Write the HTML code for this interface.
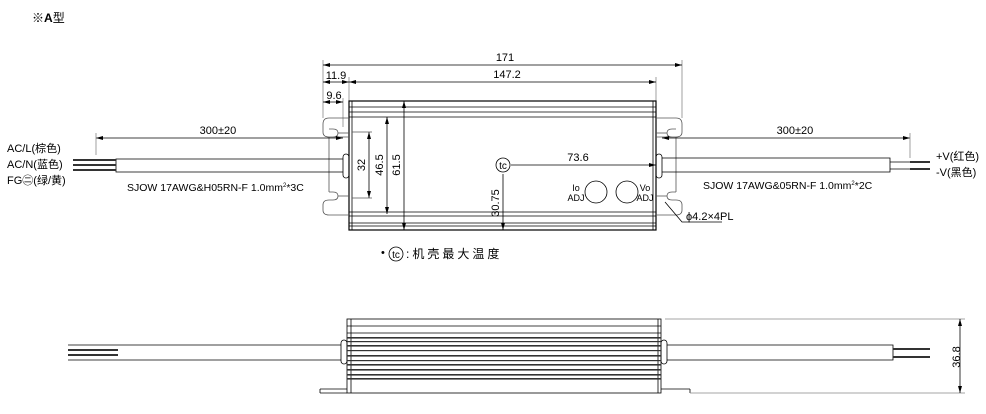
<!DOCTYPE html>
<html><head><meta charset="utf-8"><style>
html,body{margin:0;padding:0;background:#fff;}
svg{display:block;font-family:"Liberation Sans","Noto Sans CJK SC",sans-serif;}
</style></head><body>
<svg width="986" height="414" viewBox="0 0 986 414" xmlns="http://www.w3.org/2000/svg">
<defs>
<marker id="a" markerWidth="7" markerHeight="4" refX="7" refY="2" orient="auto-start-reverse" markerUnits="userSpaceOnUse"><path d="M0,0 L7,2 L0,4 z" fill="#000"/></marker>
</defs>
<g fill="#000" font-size="11">
<text x="32" y="22" font-size="12">※<tspan font-weight="bold">A</tspan>型</text>
</g>
<g stroke="#000" stroke-width="0.8" fill="none">
<line x1="323" y1="60" x2="323" y2="118" stroke="#888"/>
<line x1="682" y1="60" x2="682" y2="118" stroke="#888"/>
<line x1="349" y1="77" x2="349" y2="101" stroke="#888"/>
<line x1="656" y1="77" x2="656" y2="101" stroke="#888"/>
<line x1="343" y1="98" x2="343" y2="127" stroke="#888"/>
<line x1="323" y1="65" x2="682" y2="65" marker-start="url(#a)" marker-end="url(#a)"/>
<line x1="349" y1="82" x2="656" y2="82" marker-start="url(#a)" marker-end="url(#a)"/>
<line x1="323" y1="82" x2="349" y2="82" marker-start="url(#a)" marker-end="url(#a)"/>
<line x1="323" y1="102" x2="343" y2="102" marker-start="url(#a)" marker-end="url(#a)"/>
<rect x="349" y="101" width="307" height="129" stroke-width="1.2"/>
<line x1="352" y1="101" x2="352" y2="230"/><line x1="653" y1="101" x2="653" y2="230"/>
<line x1="349" y1="107" x2="656" y2="107"/><line x1="349" y1="112" x2="656" y2="112"/><line x1="349" y1="117" x2="656" y2="117"/>
<line x1="349" y1="212" x2="656" y2="212"/><line x1="349" y1="216" x2="656" y2="216"/><line x1="349" y1="223" x2="656" y2="223"/><line x1="349" y1="226" x2="656" y2="226"/>
<path d="M349,118 L329,118 Q323,118 323,124 L323,132 Q323,137 329,137 L333,137 Q338,137 338,133 Q338,129 333,129 L329,129 M329,137 L349,137" stroke="#555"/>
<path d="M329,137 L329,192 M333,192 Q338,192 338,196 Q338,200 333,200 L329,200 Q323,200 323,205 L323,210 Q323,215 329,215 L349,215 M329,192 L333,192" stroke="#555"/>
<line x1="338" y1="133" x2="349" y2="133" stroke="#555"/><line x1="338" y1="196" x2="349" y2="196" stroke="#555"/>
<path d="M656,118 L676,118 Q682,118 682,124 L682,132 Q682,137 676,137 L672,137 Q667,137 667,133 Q667,129 672,129 L676,129 M676,137 L656,137" stroke="#555"/>
<path d="M676,137 L676,192 M672,192 Q667,192 667,196 Q667,200 672,200 L676,200 Q682,200 682,205 L682,210 Q682,215 676,215 L656,215 M676,192 L672,192" stroke="#555"/>
<line x1="667" y1="133" x2="656" y2="133" stroke="#555"/><line x1="667" y1="196" x2="656" y2="196" stroke="#555"/>
<rect x="343" y="154" width="6" height="24" rx="3"/>
<rect x="656" y="154" width="6" height="24" rx="3"/>
<path d="M343,159 L116,159 L116,172 L343,172"/>
<path d="M662,158 L890,158 L890,172 L662,172"/>
<line x1="890" y1="162" x2="930" y2="162"/><line x1="890" y1="169" x2="930" y2="169"/>
<line x1="96" y1="138" x2="343" y2="138" marker-start="url(#a)" marker-end="url(#a)"/>
<line x1="96" y1="133" x2="96" y2="155" stroke="#888"/>
<line x1="662" y1="138" x2="910" y2="138" marker-start="url(#a)" marker-end="url(#a)"/>
<line x1="910" y1="133" x2="910" y2="158" stroke="#888"/>
<line x1="369" y1="132" x2="369" y2="198" marker-start="url(#a)" marker-end="url(#a)"/>
<line x1="352" y1="132" x2="372" y2="132" stroke="#555"/><line x1="352" y1="198" x2="372" y2="198" stroke="#555"/>
<line x1="387" y1="117" x2="387" y2="214" marker-start="url(#a)" marker-end="url(#a)"/>
<line x1="404" y1="101" x2="404" y2="230" marker-start="url(#a)" marker-end="url(#a)"/>
<circle cx="503" cy="165" r="7"/>
<line x1="511" y1="165" x2="656" y2="165" marker-end="url(#a)"/>
<line x1="503" y1="174" x2="503" y2="230" marker-end="url(#a)"/>
<circle cx="596" cy="192" r="11"/><circle cx="627" cy="192" r="11"/>
<polyline points="665,202 682,222 722,222"/>
</g>
<g fill="#333">
<rect x="73" y="159" width="43" height="2"/><rect x="73" y="164" width="43" height="2"/><rect x="73" y="169" width="43" height="2"/>
<rect x="910" y="161" width="20" height="2"/><rect x="910" y="168" width="20" height="2"/>
</g>
<g fill="#000" font-size="11">
<text x="505" y="61" text-anchor="middle">171</text>
<text x="507" y="78" text-anchor="middle">147.2</text>
<text x="336" y="79" text-anchor="middle">11.9</text>
<text x="334" y="99" text-anchor="middle">9.6</text>
<text x="218" y="134" text-anchor="middle">300±20</text>
<text x="795" y="134" text-anchor="middle">300±20</text>
<text x="578" y="161" text-anchor="middle">73.6</text>
<text transform="translate(365,165) rotate(-90)" text-anchor="middle">32</text>
<text transform="translate(383,165) rotate(-90)" text-anchor="middle">46.5</text>
<text transform="translate(400,165) rotate(-90)" text-anchor="middle">61.5</text>
<text transform="translate(499,203) rotate(-90)" text-anchor="middle">30.75</text>
<text x="503" y="169" text-anchor="middle" font-size="10">tc</text>
<text x="576" y="191" text-anchor="middle" font-size="9">Io</text>
<text x="576" y="201" text-anchor="middle" font-size="9">ADJ</text>
<text x="645" y="191" text-anchor="middle" font-size="9">Vo</text>
<text x="645" y="201" text-anchor="middle" font-size="9">ADJ</text>
<text x="7" y="152">AC/L(棕色)</text>
<text x="7" y="168">AC/N(蓝色)</text>
<text x="7" y="184">FG㊁(绿/黄)</text>
<text x="127" y="191" font-size="10.5">SJOW 17AWG&amp;H05RN-F   1.0mm<tspan font-size="6" dy="-4">2</tspan><tspan dy="4">*3C</tspan></text>
<text x="703" y="189" font-size="10.5">SJOW 17AWG&amp;05RN-F   1.0mm<tspan font-size="6" dy="-4">2</tspan><tspan dy="4">*2C</tspan></text>
<text x="936" y="160">+V(红色)</text>
<text x="936" y="176">-V(黑色)</text>
<text x="686" y="220">ϕ4.2×4PL</text>
<text x="381" y="256">•</text>
<text x="406" y="258" font-size="12" letter-spacing="3">:机壳最大温度</text>
<text x="396" y="258" text-anchor="middle" font-size="10">tc</text>
</g>
<circle cx="396" cy="254" r="7" fill="none" stroke="#000" stroke-width="0.8"/>
<g stroke="#000" stroke-width="0.8" fill="none">
<rect x="347" y="319" width="314" height="74"/>
<line x1="351" y1="319" x2="351" y2="393"/><line x1="658" y1="319" x2="658" y2="393"/>
<line x1="347" y1="326" x2="661" y2="326"/><line x1="347" y1="333" x2="661" y2="333"/>
<line x1="320" y1="393" x2="347" y2="393"/><line x1="320" y1="389" x2="347" y2="389"/><line x1="320" y1="389" x2="320" y2="393"/>
<line x1="661" y1="389" x2="690" y2="389"/><line x1="690" y1="389" x2="690" y2="393"/>
<line x1="690" y1="393" x2="965" y2="393" stroke="#888"/>
<line x1="665" y1="319" x2="965" y2="319" stroke="#888"/>
<rect x="341" y="340" width="6" height="24" rx="3"/>
<rect x="661" y="340" width="6" height="24" rx="3"/>
<line x1="68" y1="345" x2="341" y2="345"/><line x1="68" y1="360" x2="341" y2="360"/>
<path d="M667,345 L893,345 L893,360 L667,360"/>
<line x1="960" y1="319" x2="960" y2="393" marker-start="url(#a)" marker-end="url(#a)"/>
</g>
<g fill="#333">
<rect x="347" y="337" width="314" height="1.6"/><rect x="347" y="341" width="314" height="1.2"/>
<rect x="347" y="345" width="314" height="1.6"/><rect x="347" y="350" width="314" height="1.2"/>
<rect x="347" y="355" width="314" height="1.6"/><rect x="347" y="360" width="314" height="1.2"/>
<rect x="347" y="364" width="314" height="1.6"/><rect x="347" y="369" width="314" height="1.6"/>
<rect x="347" y="374" width="314" height="1.6"/><rect x="347" y="378" width="314" height="1.6"/>
<rect x="68" y="349" width="50" height="2"/><rect x="68" y="354" width="50" height="2"/>
<rect x="893" y="348" width="37" height="2"/><rect x="893" y="356" width="37" height="2"/>
</g>
<text transform="translate(960,357) rotate(-90)" text-anchor="middle" font-size="11" fill="#000">36.8</text>
</svg>
</body></html>
